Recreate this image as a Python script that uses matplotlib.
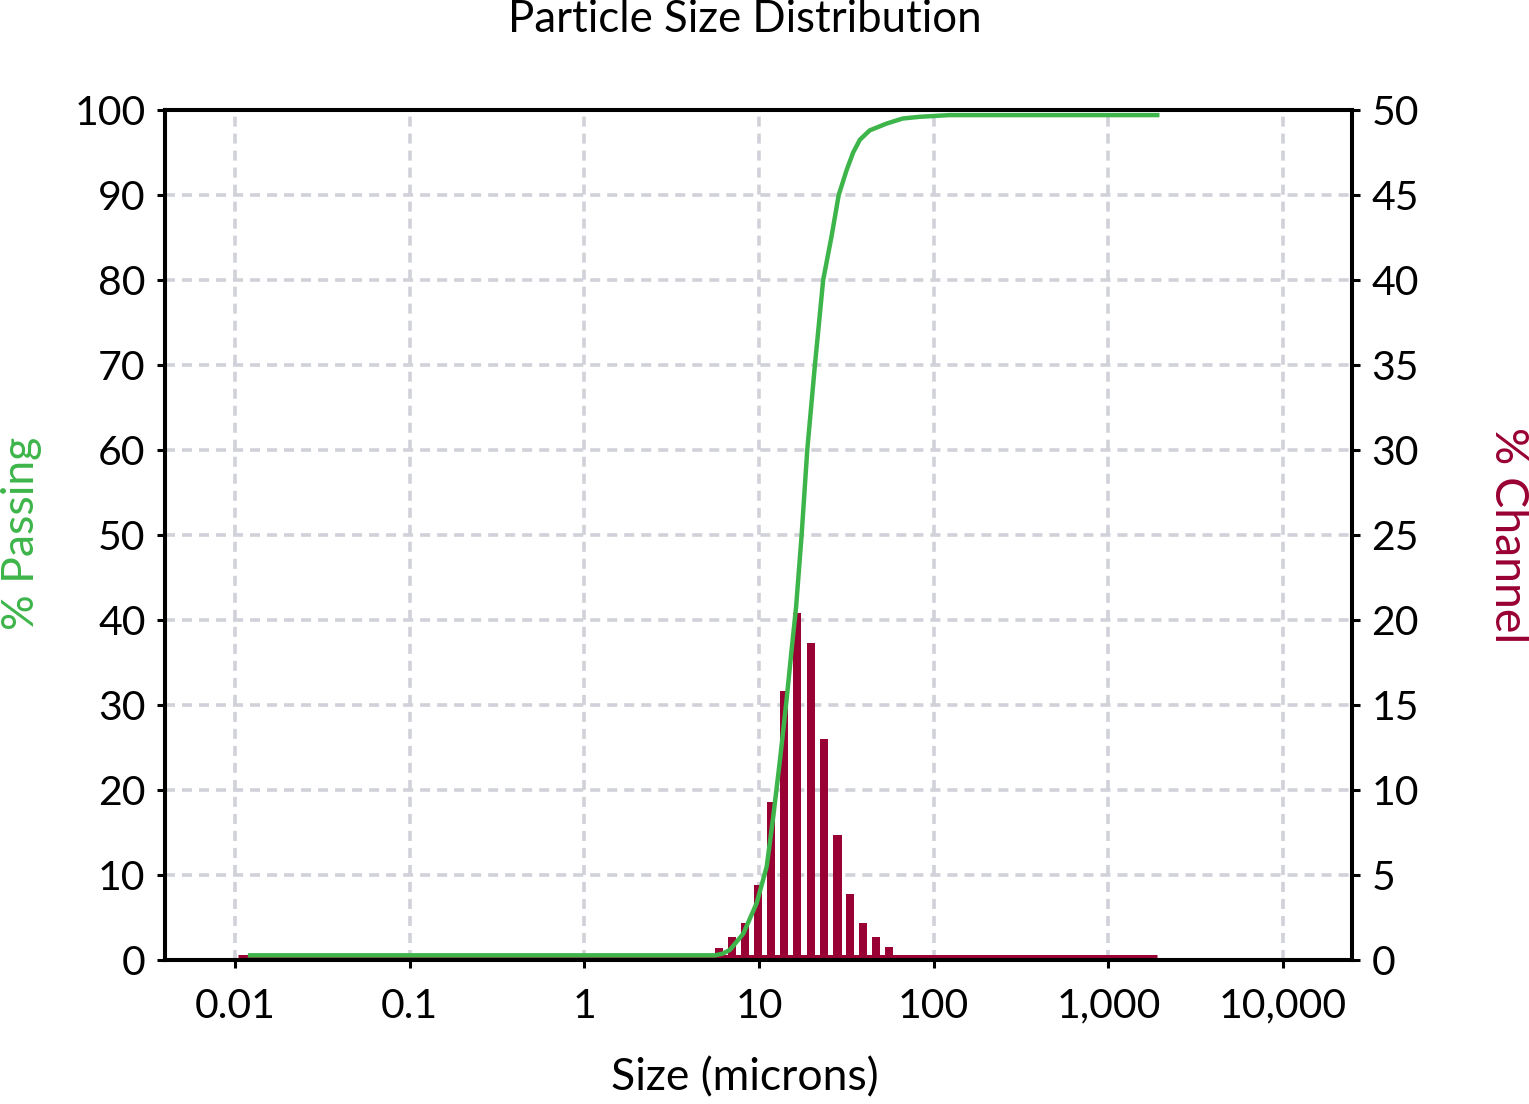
import matplotlib
matplotlib.use("Agg")
import matplotlib.pyplot as plt
import numpy as np

# ---- data ----
channel_sizes = [5.92, 7.01, 8.32, 9.87, 11.72, 13.89, 16.49, 19.8, 23.5, 28.1, 33.1, 39.3, 46.6, 55.3]
channel_pct = [0.69, 1.33, 2.2, 4.39, 9.29, 15.84, 20.4, 18.67, 12.98, 7.33, 3.88, 2.2, 1.33, 0.75]
tail_sizes = [0.0104, 1905]
tail_pct = [0.15, 0.15]

passing_sizes = [0.0122, 5.6, 6.2, 6.82, 8.13, 9.70, 11.07, 12.07, 13.18, 14.38, 15.37, 16.3,
                 17.54, 18.89, 20.9, 23.3, 26.0, 28.6, 31.7, 34.6, 37.8, 43.0, 53.7, 66.5, 83.2, 123, 1905]
passing_pct = [0.55, 0.55, 0.75, 1.2, 3.1, 6.7, 11, 16.9, 23.5, 30.6, 36.5, 41.5,
               50, 60, 70, 80, 85.1, 90, 92.9, 95.0, 96.5, 97.6, 98.4, 99.0, 99.2, 99.4, 99.4]

xtick_vals = [0.01, 0.1, 1, 10, 100, 1000, 10000]
xtick_labels = ["0.01", "0.1", "1", "10", "100", "1,000", "10,000"]
left_ticks = list(range(0, 101, 10))
right_ticks = list(range(0, 51, 5))

GREEN = "#3db54a"
RED = "#990033"
GRID = "#d0d1d9"
FONT = "Lato"

plt.rcParams['font.family'] = [FONT, 'DejaVu Sans']

fig = plt.figure(figsize=(15.29, 11.04), dpi=100)
ax = fig.add_axes([165/1529, 1-960/1104, (1352-165)/1529, (960-110)/1104])
ax2 = ax.twinx()

# bottom layer: bars + grid
ax2.set_zorder(1)
ax.set_zorder(2)
ax.patch.set_visible(False)
ax2.xaxis.set_visible(True)
ax2.tick_params(axis='x', which='both', bottom=False, top=False, labelbottom=False, labeltop=False)

half = 0.0237
cs = np.array(channel_sizes)
lefts = cs * 10**(-half)
widths = cs * (10**half - 10**(-half))
ax2.bar(lefts, channel_pct, width=widths, align='edge', color=RED, zorder=3)
ax2.plot(tail_sizes, tail_pct, color=RED, lw=3.6, solid_capstyle='butt', zorder=3)

ax.plot(passing_sizes, passing_pct, color=GREEN, lw=3.2, zorder=4)

ax.set_xscale('log')
ax2.set_xscale('log')
xmin, xmax = 10**-2.4008, 10**4.395
ax.set_xlim(xmin, xmax)
ax.set_ylim(0, 100)
ax2.set_ylim(0, 50)

ax.set_xticks(xtick_vals)
ax.set_xticklabels(xtick_labels)
ax.xaxis.set_minor_locator(matplotlib.ticker.NullLocator())
ax2.xaxis.set_minor_locator(matplotlib.ticker.NullLocator())
ax.set_yticks(left_ticks)
ax2.set_yticks(right_ticks)

ax2.grid(True, which='major', axis='both', color=GRID, linestyle=(0, (2.77, 1.94)), lw=2.6, zorder=0)
ax2.set_axisbelow(True)

fs = 29.5
for a in (ax, ax2):
    a.tick_params(axis='y', which='major', direction='out', length=6, width=2.2,
                  labelsize=fs, color='black')
    for s in a.spines.values():
        s.set_linewidth(2.9)
        s.set_color('black')
ax.tick_params(axis='x', which='major', direction='out', length=6, width=2.2,
               labelsize=fs, color='black', pad=14)
ax.tick_params(axis='y', pad=8)
ax2.tick_params(axis='y', pad=8)

lfs = 32
fig.text(745/1529, 1-20/1104, "Particle Size Distribution", ha='center', va='center', fontsize=31.5)
fig.text(745/1529, 1-1078/1104, "Size (microns)", ha='center', va='center', fontsize=lfs)
fig.text(22/1529, 1-533/1104, "% Passing", ha='center', va='center', rotation=90, fontsize=lfs, color=GREEN)
fig.text(1508/1529, 1-535/1104, "% Channel", ha='center', va='center', rotation=270, fontsize=33.5, color=RED)

fig.savefig("out.png", dpi=100)
